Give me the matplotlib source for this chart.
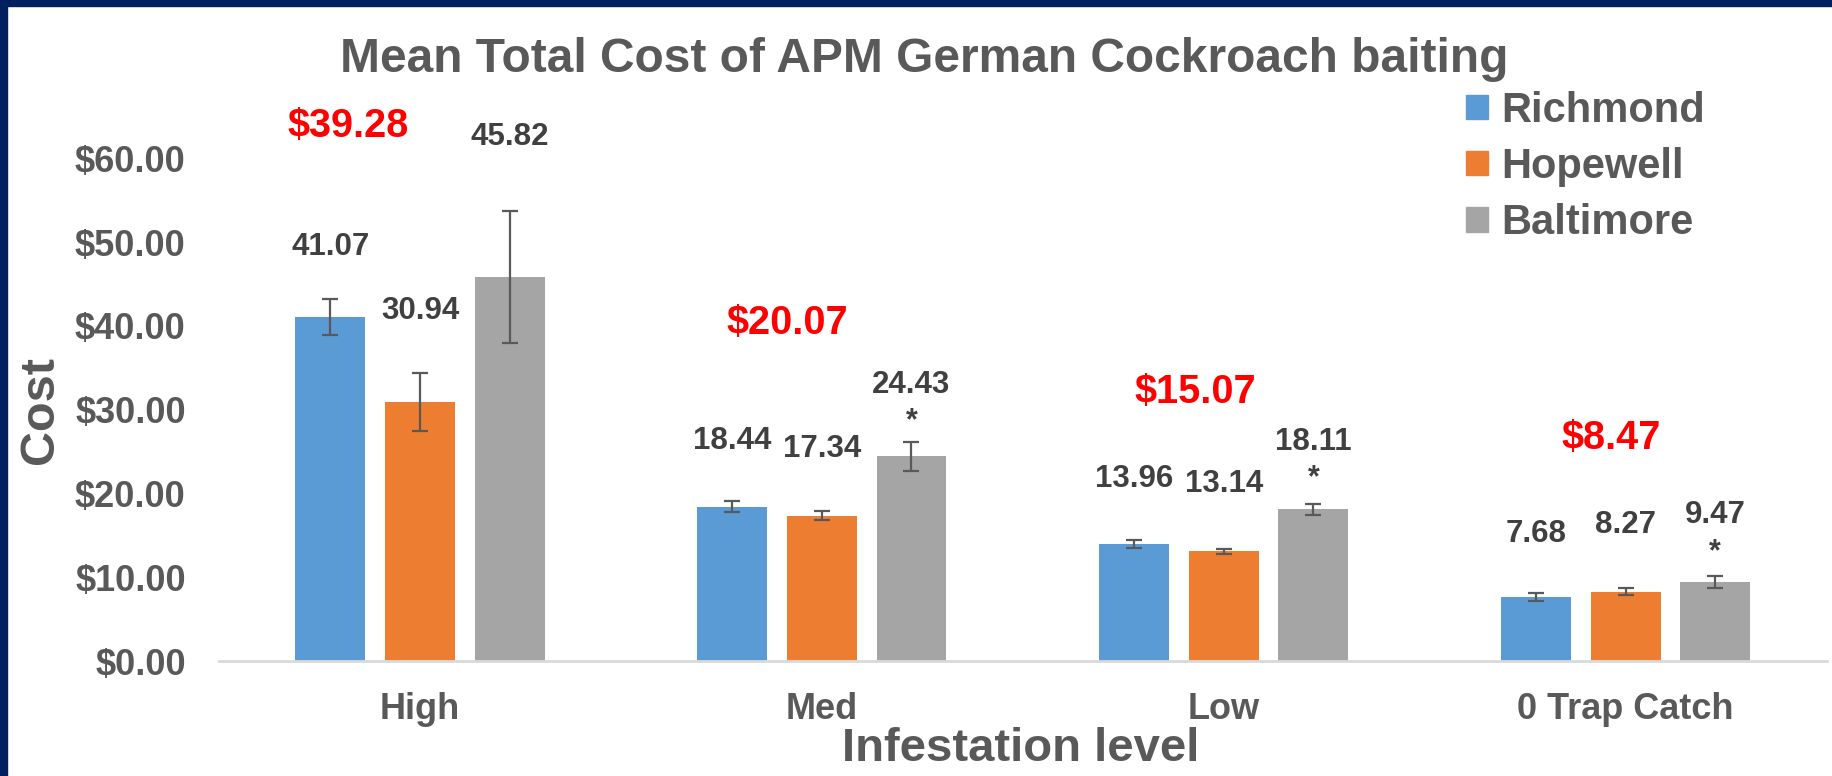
import matplotlib
matplotlib.use('Agg')
import matplotlib.pyplot as plt
import numpy as np
from matplotlib.patches import Rectangle, Patch

plt.rcParams['font.family'] = ['Liberation Sans', 'DejaVu Sans']
plt.rcParams['font.weight'] = 'bold'

# 数据
categories = ['High', 'Med', 'Low', '0 Trap Catch']
series = ['Richmond', 'Hopewell', 'Baltimore']
richmond = [41.07, 18.44, 13.96, 7.68]
hopewell = [30.94, 17.34, 13.14, 8.27]
baltimore = [45.82, 24.43, 18.11, 9.47]
richmond_err = [2.2, 0.7, 0.45, 0.45]
hopewell_err = [3.5, 0.55, 0.3, 0.4]
baltimore_err = [7.9, 1.7, 0.7, 0.7]
mean_cost = [39.28, 20.07, 15.07, 8.47]
baltimore_sig = [False, True, True, True]

colors = ['#5B9BD5', '#ED7D31', '#A5A5A5']
grey_txt = '#595959'

# 标签位置 (y, 数据坐标)
label_y = [[49.4, 26.3, 21.7, 15.2],
           [41.8, 25.3, 21.1, 16.2],
           [62.5, 33.0, 26.1, 17.4]]
star_y = [0, 28.6, 21.8, 13.0]
mean_dx = [-0.18, -0.087, -0.072, -0.035]
mean_y = [63.8, 40.4, 32.1, 26.6]

fig = plt.figure(figsize=(18.33, 7.76), dpi=100)
ax = fig.add_axes([0.1195, 0.148, 0.877, 0.756])

x = np.arange(len(categories))
w = 0.174
off = 0.223
vals = [richmond, hopewell, baltimore]
errs = [richmond_err, hopewell_err, baltimore_err]
for i in range(3):
    xi = x + (i - 1) * off
    ax.bar(xi, vals[i], w, color=colors[i], label=series[i], zorder=2)
    ax.errorbar(xi, vals[i], yerr=errs[i], fmt='none', ecolor=grey_txt,
                elinewidth=1.6, capsize=6, capthick=1.6, zorder=3)
    for j in range(len(categories)):
        ax.text(xi[j], label_y[i][j], '%.2f' % vals[i][j], ha='center', va='center',
                fontsize=22.5, color='#404040', fontweight='bold', clip_on=False)

# 星号
for j in range(len(categories)):
    if baltimore_sig[j]:
        ax.text(x[j] + off, star_y[j], '*', ha='center', va='center',
                fontsize=22, color='#404040', fontweight='bold')

# 平均值
for j in range(len(categories)):
    ax.text(x[j] + mean_dx[j], mean_y[j], '$%.2f' % mean_cost[j], ha='center', va='center',
            fontsize=28.5, color='#FF0000', fontweight='bold', clip_on=False)

ax.set_xlim(-0.5, len(categories) - 0.5)
ax.set_ylim(0, 70)
ax.set_yticks(np.arange(0, 61, 10))
ax.set_yticklabels(['$%.2f' % v for v in np.arange(0, 61, 10)])
ax.set_xticks(x)
ax.set_xticklabels(categories)
ax.tick_params(axis='y', length=0, pad=24, labelsize=26, labelcolor=grey_txt)
ax.tick_params(axis='x', length=0, pad=22, labelsize=26, labelcolor=grey_txt)
for s in ['top', 'right', 'left']:
    ax.spines[s].set_visible(False)
ax.spines['bottom'].set_color('#D9D9D9')
ax.spines['bottom'].set_linewidth(2)

fig.text(0.504, 0.9235, 'Mean Total Cost of APM German Cockroach baiting', ha='center', va='center',
         fontsize=34.5, color=grey_txt, fontweight='bold')
fig.text(0.022, 0.472, 'Cost', rotation=90, ha='center', va='center',
         fontsize=35, color=grey_txt, fontweight='bold')
fig.text(0.557, 0.035, 'Infestation level', ha='center', va='center',
         fontsize=34, color=grey_txt, fontweight='bold')

handles = [Patch(color=c) for c in colors]
fig.legend(handles, series, loc='center left', bbox_to_anchor=(0.800, 0.785),
           frameon=False, fontsize=30, handlelength=0.53, handleheight=0.53,
           handletextpad=0.3, labelspacing=0.39, borderpad=0, borderaxespad=0,
           labelcolor=grey_txt, prop={'weight': 'bold', 'size': 30})

# 边框
fig.patches.append(Rectangle((0, 0), 0.004, 1, transform=fig.transFigure, color='#002060', zorder=10))
fig.patches.append(Rectangle((0, 0.9925), 1, 0.0075, transform=fig.transFigure, color='#002060', zorder=10))

fig.savefig('out.png', dpi=100)
